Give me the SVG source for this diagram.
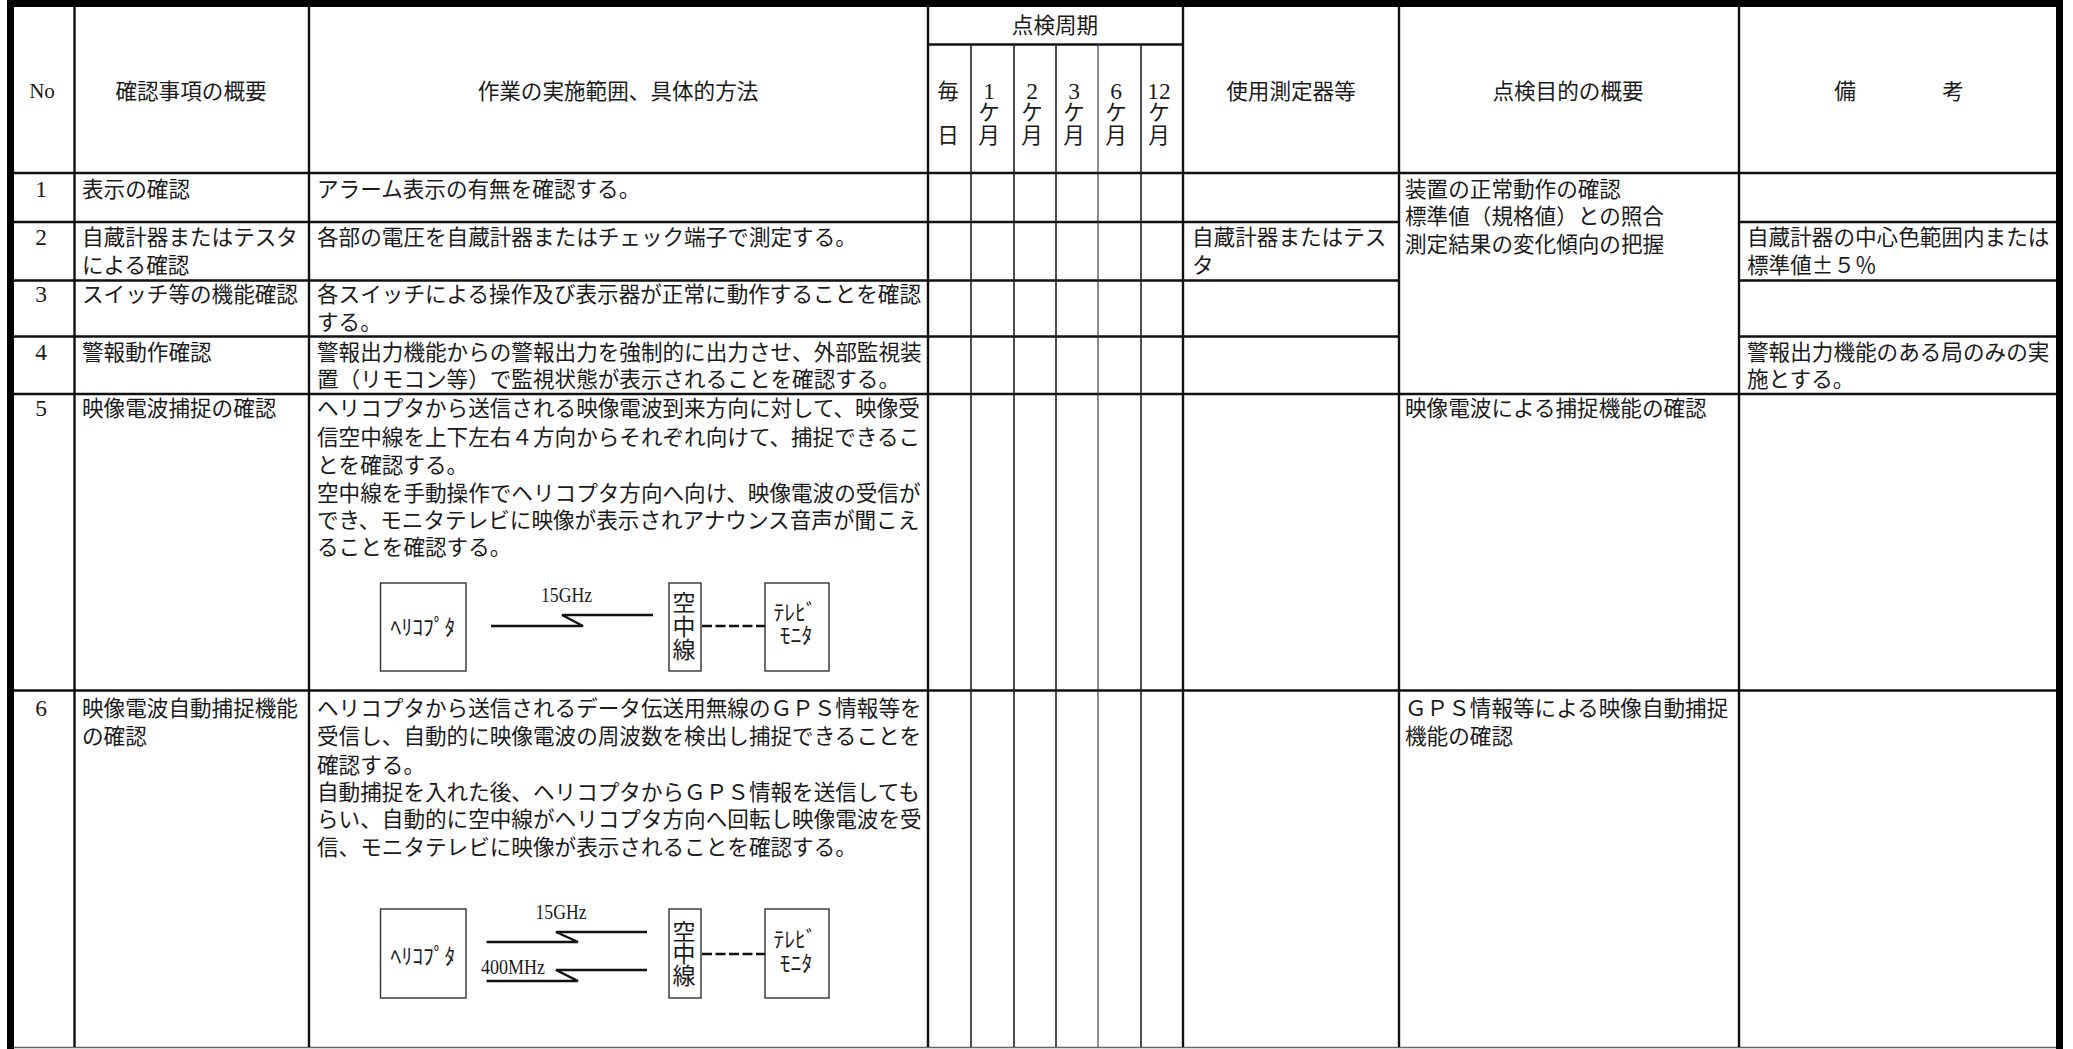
<svg xmlns="http://www.w3.org/2000/svg" width="2073" height="1049" viewBox="0 0 2073 1049">
<style>
text{font-family:"Noto Sans CJK JP","Noto Sans CJK SC",sans-serif;font-size:21.6px;fill:#1a1a1a}
.l{font-family:"Liberation Serif","Noto Sans CJK JP",serif;font-size:23.5px}
.f{font-size:21px}
.m{text-anchor:middle}
.h{stroke:#111;stroke-width:2.6;fill:none}
.v{stroke:#111;stroke-width:2.4;fill:none}
.p{stroke:#222;stroke-width:1.6;fill:none}
.b{stroke:#333;stroke-width:1.4;fill:#fff}
.c{stroke:#111;stroke-width:2.4;fill:none}
.d{stroke:#111;stroke-width:2.4;stroke-dasharray:10 3.5;fill:none}
.big{font-size:23px}
</style>
<rect width="2073" height="1049" fill="#fff"/>
<g id="frame">
<path d="M10.5 1049V3.5H2059.5V1049" fill="none" stroke="#000" stroke-width="7"/>
<path d="M14 1047.5H2056" stroke="#666" stroke-width="1.4"/>
</g>
<g id="grid">
<path class="h" d="M14 173H2056M14 222H1399M1739 222H2056M14 280.500H1399M1739 280.500H2056M14 336.500H1399M1739 336.500H2056M14 394H2056M14 690.500H2056M928 44.500H1183"/>
<path class="v" d="M74.500 7V1047M309 7V1047M928 7V1047M1183 7V1047M1399 7V1047M1739 7V1047"/>
<path class="p" d="M971 44V1047M1014 44V1047M1056 44V1047M1141 44V1047"/>
<path stroke="#333" stroke-width="1.100" d="M1098 44V1047"/>
</g>
<g id="header">
<text class="l m f" x="42" y="98">No</text>
<text class="m" x="191" y="99">確認事項の概要</text>
<text class="m" x="618" y="99">作業の実施範囲、具体的方法</text>
<text class="m" x="1055" y="33">点検周期</text>
<text class="m" x="948" y="99">毎</text><text class="m" x="948" y="143">日</text>
<text class="l m" x="989" y="99">1</text><text class="m" x="989" y="120">ケ</text><text class="m" x="989" y="143">月</text>
<text class="l m" x="1032" y="99">2</text><text class="m" x="1032" y="120">ケ</text><text class="m" x="1032" y="143">月</text>
<text class="l m" x="1074" y="99">3</text><text class="m" x="1074" y="120">ケ</text><text class="m" x="1074" y="143">月</text>
<text class="l m" x="1116" y="99">6</text><text class="m" x="1116" y="120">ケ</text><text class="m" x="1116" y="143">月</text>
<text class="l m" x="1159" y="99">12</text><text class="m" x="1159" y="120">ケ</text><text class="m" x="1159" y="143">月</text>
<text class="m" x="1291" y="99">使用測定器等</text>
<text class="m" x="1568" y="99">点検目的の概要</text>
<text class="m" x="1845" y="99">備</text><text class="m" x="1953" y="99">考</text>
</g>
<g id="row1">
<text class="l m" x="41" y="197">1</text>
<text x="82" y="197">表示の確認</text>
<text x="317" y="197">アラーム表示の有無を確認する。</text>
<text x="1405" y="197">装置の正常動作の確認</text>
<text x="1405" y="224">標準値（規格値）との照合</text>
<text x="1405" y="252">測定結果の変化傾向の把握</text>
</g>
<g id="row2">
<text class="l m" x="41" y="245">2</text>
<text x="82" y="245">自蔵計器またはテスタ</text>
<text x="82" y="273">による確認</text>
<text x="317" y="245">各部の電圧を自蔵計器またはチェック端子で測定する。</text>
<text x="1192" y="245">自蔵計器またはテス</text>
<text x="1192" y="273">タ</text>
<text x="1747" y="245">自蔵計器の中心色範囲内または</text>
<text x="1747" y="273">標準値±５％</text>
</g>
<g id="row3">
<text class="l m" x="41" y="302">3</text>
<text x="82" y="302">スイッチ等の機能確認</text>
<text x="317" y="302">各スイッチによる操作及び表示器が正常に動作することを確認</text>
<text x="317" y="330">する。</text>
</g>
<g id="row4">
<text class="l m" x="41" y="360">4</text>
<text x="82" y="360">警報動作確認</text>
<text x="317" y="360">警報出力機能からの警報出力を強制的に出力させ、外部監視装</text>
<text x="317" y="387">置（リモコン等）で監視状態が表示されることを確認する。</text>
<text x="1747" y="360">警報出力機能のある局のみの実</text>
<text x="1747" y="387">施とする。</text>
</g>
<g id="row5">
<text class="l m" x="41" y="416">5</text>
<text x="82" y="416">映像電波捕捉の確認</text>
<text x="317" y="416">ヘリコプタから送信される映像電波到来方向に対して、映像受</text>
<text x="317" y="445">信空中線を上下左右４方向からそれぞれ向けて、捕捉できるこ</text>
<text x="317" y="473">とを確認する。</text>
<text x="317" y="501">空中線を手動操作でヘリコプタ方向へ向け、映像電波の受信が</text>
<text x="317" y="528">でき、モニタテレビに映像が表示されアナウンス音声が聞こえ</text>
<text x="317" y="555">ることを確認する。</text>
<text x="1405" y="416">映像電波による捕捉機能の確認</text>
</g>
<g id="row6">
<text class="l m" x="41" y="716">6</text>
<text x="82" y="716">映像電波自動捕捉機能</text>
<text x="82" y="744">の確認</text>
<text x="317" y="716">ヘリコプタから送信されるデータ伝送用無線のＧＰＳ情報等を</text>
<text x="317" y="744">受信し、自動的に映像電波の周波数を検出し捕捉できることを</text>
<text x="317" y="773">確認する。</text>
<text x="317" y="800">自動捕捉を入れた後、ヘリコプタからＧＰＳ情報を送信しても</text>
<text x="317" y="827">らい、自動的に空中線がヘリコプタ方向へ回転し映像電波を受</text>
<text x="317" y="855">信、モニタテレビに映像が表示されることを確認する。</text>
<text x="1405" y="716">ＧＰＳ情報等による映像自動捕捉</text>
<text x="1405" y="744">機能の確認</text>
</g>
<g id="d1-heli"><rect class="b" x="380.500" y="583" width="85.500" height="88"/><text class="m" x="423" y="635">ﾍﾘｺﾌﾟﾀ</text></g>
<g id="d1-antenna"><rect class="b" x="669" y="583" width="32" height="88"/><text class="m big" x="684" y="611">空</text><text class="m big" x="684" y="635">中</text><text class="m big" x="684" y="658">線</text></g>
<g id="d1-monitor"><rect class="b" x="765" y="583" width="64" height="88"/><text class="m" x="795" y="620">ﾃﾚﾋﾞ</text><text class="m" x="796" y="643">ﾓﾆﾀ</text></g>
<g id="d2-heli"><rect class="b" x="380.500" y="909" width="85.500" height="89"/><text class="m" x="423" y="964">ﾍﾘｺﾌﾟﾀ</text></g>
<g id="d2-antenna"><rect class="b" x="669" y="909" width="32" height="89"/><text class="m big" x="684" y="940">空</text><text class="m big" x="684" y="962">中</text><text class="m big" x="684" y="984">線</text></g>
<g id="d2-monitor"><rect class="b" x="765" y="909" width="64" height="89"/><text class="m" x="795" y="947">ﾃﾚﾋﾞ</text><text class="m" x="796" y="971">ﾓﾆﾀ</text></g>
<g id="connectors">
<path class="c" d="M491 626H583L562 615H653"/>
<path class="d" d="M702 626H765"/>
<path class="c" d="M486.500 942H578L556 932H647"/>
<path class="c" d="M486.500 981H578L556 970H647"/>
<path class="d" d="M702 954H765"/>
</g>
<g id="labels">
<text class="l m f" x="566.500" y="602" textLength="51" lengthAdjust="spacingAndGlyphs">15GHz</text>
<text class="l m f" x="561" y="919" textLength="51" lengthAdjust="spacingAndGlyphs">15GHz</text>
<text class="l m f" x="513" y="974" textLength="64" lengthAdjust="spacingAndGlyphs">400MHz</text>
</g>
</svg>
